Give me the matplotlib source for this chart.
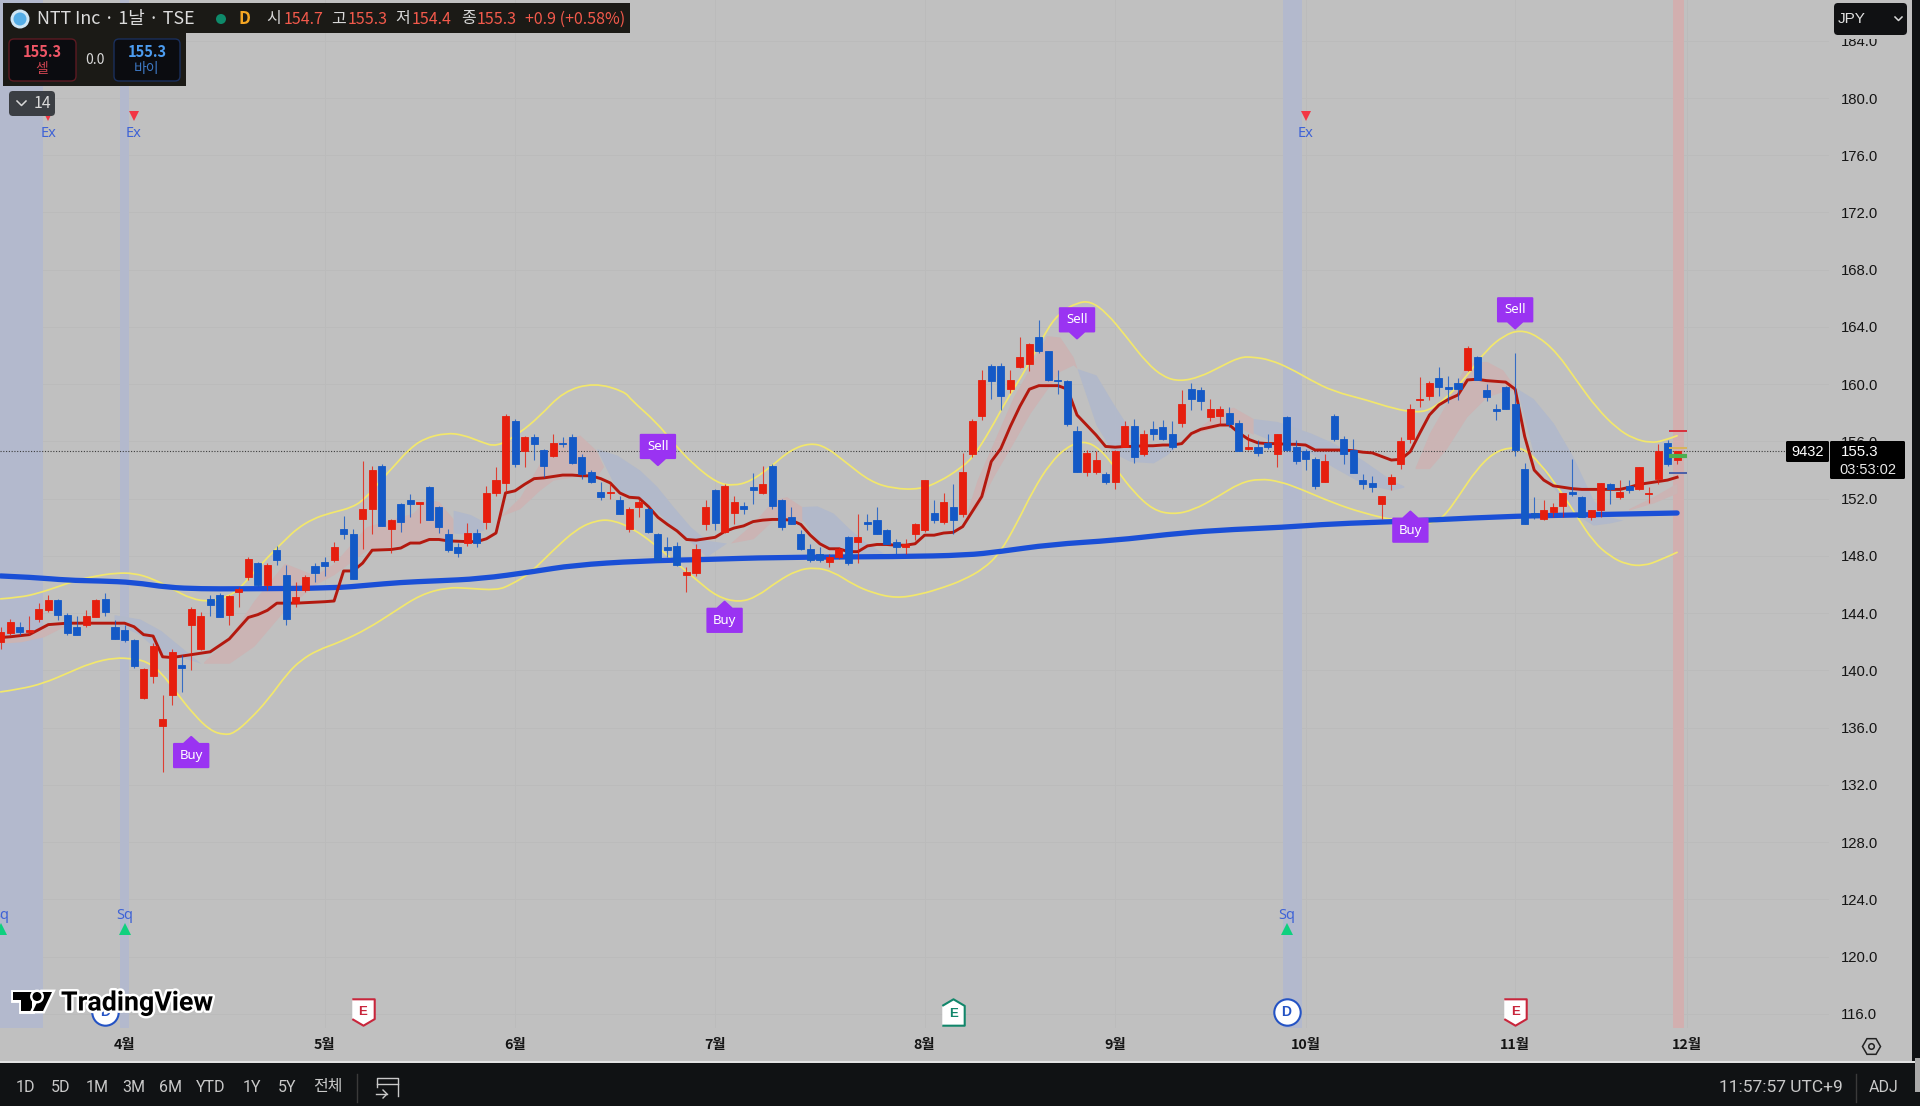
import matplotlib
matplotlib.use("Agg")
import matplotlib.pyplot as plt
import matplotlib.patheffects as pe
from matplotlib.lines import Line2D
from matplotlib.path import Path
from matplotlib.patches import Rectangle, FancyBboxPatch, Polygon, Circle, PathPatch
from matplotlib.transforms import Affine2D

plt.rcParams['font.family'] = ['Liberation Sans', 'Noto Sans CJK KR', 'DejaVu Sans']
KR = ['Noto Sans CJK KR', 'DejaVu Sans']

# daily candles
opens = [142.0,142.6,143.0,142.7,143.6,144.2,144.9,143.9,143.0,143.2,143.7,145.0,143.0,142.8,142.1,138.1,139.6,136.1,138.3,140.4,
 143.2,141.5,145.0,145.3,143.9,145.5,146.5,147.5,146.0,148.4,146.7,144.7,145.6,147.3,147.6,147.7,149.9,149.5,150.6,151.3,
 154.3,149.9,151.6,151.9,151.6,152.8,151.4,149.5,148.6,148.9,149.6,150.4,152.4,153.1,157.4,155.3,156.3,155.4,155.0,155.9,
 156.3,154.9,153.9,152.5,152.4,151.9,149.9,151.4,151.3,149.5,148.6,148.7,146.7,146.8,150.2,152.6,149.7,151.0,151.5,152.8,
 152.4,154.3,151.9,150.7,149.5,148.5,148.1,147.6,147.9,149.3,149.0,150.4,150.5,149.8,149.0,148.6,149.5,149.8,151.0,150.4,
 151.4,150.9,155.1,157.8,161.3,161.3,159.7,161.2,161.4,163.3,162.3,160.3,160.2,156.7,153.9,153.9,153.7,153.2,155.6,157.1,
 155.1,156.9,157.0,156.5,157.3,159.7,159.6,157.7,157.8,158.0,157.3,155.5,155.6,155.9,155.1,157.7,155.6,155.3,154.8,153.2,
 157.8,156.2,155.4,153.3,153.1,151.6,153.0,154.4,156.2,158.9,159.2,160.4,159.8,160.1,161.0,161.9,159.6,158.3,159.8,158.6,
 154.1,151.0,150.6,151.1,151.5,152.5,152.1,150.7,151.2,153.0,152.1,152.9,152.7,152.3,153.4,155.9,154.7]
highs = [143.0,143.6,143.4,143.8,144.7,145.3,145.0,144.0,143.8,144.2,145.0,145.4,143.5,143.2,142.2,140.2,141.9,138.3,141.5,141.1,
 144.4,144.1,145.3,145.4,145.3,145.8,147.9,147.6,147.5,148.7,147.4,146.2,146.7,147.5,147.9,149.0,150.8,149.9,154.6,154.3,
 154.4,150.6,151.7,152.3,151.8,152.9,151.5,149.9,148.9,150.3,149.9,152.9,154.2,157.9,157.6,156.4,156.5,155.5,156.5,156.3,
 156.5,155.1,154.0,153.2,153.1,152.2,151.4,152.0,151.4,149.6,149.3,149.0,147.2,148.8,151.9,152.7,153.0,152.2,151.8,153.8,
 154.3,154.4,152.0,151.4,149.8,148.8,148.6,148.1,148.6,149.4,150.9,150.9,151.4,149.9,149.2,149.2,150.3,153.3,151.9,152.4,
 153.0,155.2,157.6,161.0,161.4,161.5,161.0,163.3,162.9,164.5,162.3,161.0,160.3,157.1,155.4,155.3,153.9,155.4,157.4,157.6,
 156.8,157.4,157.5,157.4,159.6,160.1,159.8,159.0,158.5,158.4,157.5,156.5,156.1,156.5,156.5,157.8,156.1,155.5,154.9,155.1,
 157.9,156.4,156.2,153.7,153.6,152.2,153.7,156.3,158.6,160.5,160.2,161.2,160.6,160.4,162.7,162.0,160.0,158.6,159.9,162.2,
 154.5,152.1,151.9,151.7,152.4,154.8,152.2,151.2,153.1,153.1,153.3,153.3,154.2,152.8,155.8,156.1,155.3]
lows = [141.5,142.5,142.5,142.5,143.4,144.1,143.5,142.5,142.5,143.0,143.7,143.8,142.2,142.0,140.2,138.0,139.1,132.9,137.6,138.5,
 140.0,141.4,143.8,143.7,143.2,144.4,146.3,145.8,145.6,147.4,143.2,144.4,145.5,146.2,146.6,147.6,149.2,146.4,148.5,149.5,
 150.1,148.2,149.7,150.7,150.3,150.5,149.6,148.3,147.9,148.7,148.6,149.9,152.2,152.5,154.2,154.2,154.7,153.5,154.9,155.6,
 154.4,153.4,153.1,151.9,152.0,150.9,149.7,150.7,149.6,147.7,147.9,147.3,145.5,146.6,149.8,149.8,149.6,150.2,150.9,151.6,
 152.3,151.3,149.8,150.2,148.4,147.6,147.6,147.2,147.8,147.4,147.5,149.8,149.5,148.8,148.1,148.1,149.1,149.7,150.3,150.2,
 149.5,150.7,154.9,157.5,159.0,158.2,159.4,161.1,160.9,162.2,160.2,159.3,157.1,153.9,153.6,153.7,153.0,152.7,155.6,154.5,
 155.0,156.1,156.1,155.5,157.0,158.2,158.2,157.4,157.2,157.0,155.3,155.4,155.0,155.5,154.2,155.3,154.4,154.0,152.7,153.2,
 156.0,154.4,153.8,152.7,152.5,150.6,152.6,154.1,155.9,158.4,158.9,159.2,158.7,158.9,160.9,160.3,158.8,157.5,158.3,155.0,
 150.2,150.6,150.5,150.7,150.7,152.2,150.7,150.5,150.7,151.6,152.0,152.4,152.6,151.7,153.0,154.3,154.4]
closes = [142.7,143.4,142.7,142.8,144.3,144.9,143.9,142.6,142.5,143.8,144.9,144.1,142.2,142.1,140.3,140.1,141.7,136.6,141.3,140.2,
 144.3,143.8,144.6,143.7,145.2,145.7,147.8,146.0,147.4,147.7,143.6,145.1,146.5,146.8,147.3,148.6,149.5,146.4,151.3,154.0,
 150.1,150.5,150.4,151.6,151.8,150.5,150.0,148.4,148.2,149.6,148.9,152.4,153.3,157.8,154.4,156.3,155.8,154.3,155.9,155.8,
 154.5,153.7,153.2,152.1,152.5,150.9,151.3,151.8,149.7,147.7,148.4,147.4,146.9,148.5,151.4,150.3,152.9,151.8,151.3,152.6,
 153.0,151.5,150.0,150.2,148.5,147.7,147.7,147.9,148.5,147.5,149.3,150.2,149.5,148.8,148.6,148.8,150.2,153.3,150.5,151.8,
 150.5,153.9,157.4,160.3,160.2,159.2,160.3,161.9,162.8,162.3,160.3,160.2,157.2,153.9,155.2,154.7,153.2,155.3,157.1,154.9,
 156.5,156.5,156.2,155.6,158.6,159.0,158.8,158.3,158.3,157.2,155.3,155.6,155.2,155.6,156.5,155.4,154.6,154.8,152.9,154.6,
 156.2,155.1,153.8,153.0,152.8,152.2,153.5,156.0,158.3,159.0,160.1,159.8,159.7,159.7,162.5,160.3,159.1,158.1,158.3,155.4,
 150.2,150.7,151.2,151.4,152.4,152.3,150.7,151.2,153.1,152.7,152.5,152.6,154.2,152.4,155.3,154.4,155.3]

# red moving average
red_x = [0,1,3,5,7,9,11,13,14,15,16,17,18,19,20,21,22,24,26,27,28,29,31,34,35,36,37,38,39,41,42,43,44,45,46,47,49,50,51,52,53,54,55,56,57,58,59,60,61,62,63,64,65,66,67,68,69,70,71,72,73,74,75,76,77,78,79,80,81,82,83,84,85,86,87,88,89,90,91,92,93,94,95,96,97,98,99,100,101,102,103,104,105,106,107,108,109,110,111,112,113,114,115,116,117,118,119,120,121,122,123,124,125,126,127,128,129,130,131,132,133,134,135,136,137,138,139,140,141,142,143,144,145,146,147,148,149,150,151,152,153,154,155,156,157,158,159,160,161,162,163,164,165,166,167,168,169,170,171,172,173,174,175,176]
red_y = [142.3,142.35,142.5,143.2,143.3,143.3,143.3,143.3,143.05,142.5,142.4,140.95,140.9,141.0,141.1,141.2,141.3,142.2,143.7,143.9,144.2,144.7,144.7,144.8,144.85,146.95,146.95,147.5,148.4,148.45,148.55,148.9,148.9,149.15,149.15,149.05,149.0,149.0,149.2,149.6,152.4,152.55,153.0,153.4,153.45,153.55,153.65,153.65,153.6,153.6,153.4,153.1,152.4,152.1,152.05,151.45,150.7,150.2,149.75,149.15,149.1,149.2,149.3,149.7,149.95,150.1,150.4,150.5,150.55,150.55,150.5,150.2,149.45,148.85,148.5,148.5,148.3,148.3,148.7,148.8,148.8,148.75,148.75,148.85,149.45,149.45,149.6,149.65,150.05,151.1,152.15,154.6,155.5,157.05,158.45,159.65,159.9,159.9,159.9,159.65,157.85,157.15,156.45,155.65,155.6,155.65,155.65,155.7,155.7,155.75,155.75,155.85,156.55,156.85,157.0,157.15,157.15,156.6,156.15,155.9,155.85,155.85,155.8,155.8,155.75,155.4,155.4,155.4,155.4,155.35,155.25,155.2,154.95,154.7,154.75,155.3,156.6,157.85,158.55,158.95,159.25,160.3,160.35,160.25,160.2,160.15,159.65,156.35,154.0,153.3,152.9,152.8,152.7,152.65,152.65,152.65,152.65,152.65,152.8,153.0,153.1,153.2,153.3,153.5]

# yellow bands
upper_x = [0,2,4,6,8,10,12,14,16,18,20,22,24,25,26,28,30,31.1,32.8,34.6,37,38.4,39.8,41.6,42.8,44.4,46.8,48.6,50.3,52.1,54.5,56.5,59.1,62.3,65.5,66.2,68.9,70.6,72.7,75.2,76.9,78.7,80.8,82.9,85,86.7,88.8,91.3,93.7,96.5,98.6,100.7,102.1,103.9,105.6,107.7,109.8,111.2,113,114.4,116.1,118.2,120.3,122.1,123.8,125.9,128,130.1,131.5,133.3,135.4,137.5,139.9,143.4,146.2,148.7,150.4,152.5,154.3,156,157.8,159.5,161.3,163.4,165.5,167.6,169.7,171.4,173.2,174.6,176]
upper_y = [145.0,145.1,145.4,145.85,146.3,146.6,146.8,146.8,146.4,145.7,145.0,144.8,145.2,145.7,146.4,147.9,149.2,149.9,150.6,151.0,151.4,152.1,153.2,154.5,155.4,156.2,156.6,156.45,156.0,155.6,156.6,157.7,159.5,160.1,159.5,158.9,157.3,155.9,154.4,153.1,152.9,153.2,154.2,155.4,155.9,155.6,154.5,153.2,152.7,152.65,153.2,154.1,154.9,156.8,158.9,161.1,163.8,165.0,165.7,165.8,165.0,163.3,161.5,160.5,160.2,160.5,161.2,161.9,161.9,161.7,161.1,160.3,159.5,158.9,158.3,158.0,158.3,159.5,160.9,162.4,163.4,163.8,163.4,162.2,160.2,158.3,156.9,156.2,155.9,156.05,156.4]
lower_x = [0,2.1,4.5,7,9.4,12,14,15.4,16.8,18.5,20.3,22,23.4,24.5,26.2,28,30.1,31.5,33.2,35.7,38.5,41.3,44.1,46.9,48.9,52.1,53.6,55.6,58,60.5,62.6,64.3,66.4,68.5,70.6,73.1,75.2,77.5,79.4,81.5,83.6,85.5,87.4,89.5,91.6,94,96.5,99,101,103.2,104.9,106.7,108.4,110.2,111.9,113.7,115.4,117.2,118.9,121,123.1,125.2,127.7,130.1,132.2,134.3,136.4,139.9,143.05,146.2,150,151.5,153.2,154.9,156.7,158.5,159.9,161.6,163.7,165.5,167.2,169,170.7,172.5,174.2,176]
lower_y = [138.5,138.7,139.1,139.8,140.5,140.9,140.8,140.6,139.9,138.4,136.9,135.8,135.5,135.6,136.6,137.9,139.8,140.7,141.4,142.0,142.9,144.1,145.3,145.8,145.75,145.6,146.0,146.8,148.4,149.9,150.5,150.5,149.9,148.9,147.7,146.3,145.15,144.75,145.15,146.2,147.0,147.2,146.9,146.0,145.4,145.05,145.3,145.8,146.3,147.1,148.2,150.3,152.6,154.5,155.6,156.06,155.5,154.0,152.5,151.2,150.9,151.2,152.1,153.1,153.4,153.2,152.7,151.7,151.0,150.5,150.2,150.7,152.3,154.0,155.2,155.6,155.5,154.5,152.6,150.75,149.0,147.95,147.4,147.3,147.7,148.25]

# thick blue average
blue_x = [0,3.5,7,10.5,14,17.5,21,25.2,35,38.5,42,45.5,50.4,55.9,60.1,67.1,74.1,81.1,94.4,101.4,104.9,110.2,117.2,122.4,127.7,134.7,139.9,146.9,157.4,164.4,176]
blue_y = [146.6,146.5,146.3,146.25,146.15,145.8,145.7,145.7,145.75,145.95,146.15,146.25,146.4,146.9,147.35,147.65,147.75,147.9,147.95,148.05,148.3,148.8,149.1,149.5,149.8,150.0,150.25,150.4,150.75,150.85,151.0]

# shaded ribbons: bars, top edge, bottom edge
red_ribbons = [
 ([0,2.1,4.5,6.6], [142.3,142.4,143.0,143.2], [141.9,142.0,142.35,143.05]),
 ([21.3,24,26.6,29.8,33,35,38.4,43.3,44.7,46,47.5], [140.6,142.3,144.9,147.5,146.65,147.5,150.05,151.0,152.0,151.8,150.6], [140.5,140.5,141.7,144.2,146.0,146.7,148.4,148.9,149.1,149.2,149.5]),
 ([52.4,54.5,56.6,58,60.8,62.5,63.3], [150.75,152.1,154.5,155.9,156.45,155.4,154.25], [150.75,151.3,152.6,153.3,153.6,153.5,154.25]),
 ([76.6,79,81.1,82.5,84.1,84.5], [148.9,150.3,151.9,152.15,151.45,150.9], [148.9,149.2,150.5,150.55,150.4,150.7]),
 ([101.4,102.5,104.2,106.3,108.1,109.8,111.2,112.6,113], [151.0,153.3,155.9,159.1,161.2,163.4,163.3,161.9,161.1], [150.75,151.3,153.5,155.9,158.0,159.6,160.9,161.35,161.1]),
 ([125,127.7,129.4,131.5], [156.5,158.0,158.4,157.6], [156.5,157.0,157.15,156.5]),
 ([148.5,150,151.8,153.9,156,157.7,159.2], [154.2,156.6,158.7,161.5,161.6,161.0,159.6], [154.1,154.1,155.5,157.7,159.1,159.5,159.6]),
 ([170.9,173.5,176], [151.3,152.15,153.1], [151.2,151.7,152.4]),
]
blue_ribbons = [
 ([11.9,14.6,16.8,18.9,21], [143.9,143.6,142.8,141.65,140.5], [143.3,142.5,141.2,140.95,140.5]),
 ([47.5,49.3,50.7], [151.2,150.9,150.4], [149.6,149.5,149.8]),
 ([62.6,64.7,67.1,68.9,70.6,72.4,74.1,76.2], [155.5,155.05,154.0,152.85,151.45,150.05,149.1,148.9], [155.4,152.6,152.0,151.1,149.9,149.0,147.95,148.9]),
 ([84.1,85.7,87.4,89.1,90.9,92.7], [151.45,151.5,151.0,149.9,148.9,148.2], [150.6,149.1,148.4,148.2,148.1,148.2]),
 ([113,115,116.8,118.6,121,122.4,123.5], [161.1,160.65,158.65,156.8,155.6,155.6,155.7], [161.1,157.15,155.2,154.6,154.5,155.05,155.7]),
 ([131.5,134,137.5,139.9,143,146,147.3], [157.6,157.4,156.6,155.9,154.7,153.3,152.9], [156.6,155.9,155.2,154.2,153.05,152.6,152.8]),
 ([159.2,160.9,163,165.1,167.2,168.9,170.3], [159.7,159.0,157.3,154.9,151.9,150.75,150.5], [159.6,155.2,152.8,151.0,150.15,150.3,150.5]),
]

# signals, vertical bands, event marks
buy_bars = [20, 76, 148]
buy_prices = [135.35, 144.8, 151.1]
sell_bars = [69, 113, 159]
sell_prices = [154.35, 163.2, 163.9]
ex_bars = [5, 14, 137]
sq_bars = [0, 13, 135]
blue_bands = [(-0.5, 4.44), (12.5, 13.45), (134.65, 136.6)]
red_band = (175.6, 176.7)
earn_down_bars = [38, 159]
earn_up_bars = [100]
div_bars = [11, 135]
last_levels = [156.7, 155.56, 154.96, 153.77]
last_colors = ['#d8303c', '#d9b45a', '#4caf50', '#4a5fa8']

month_bars = [13, 34, 54, 75, 97, 117, 137, 159, 177]
month_labels = ['4월', '5월', '6월', '7월', '8월', '9월', '10월', '11월', '12월']
price_ticks = list(range(116, 188, 4))
last_price = 155.3

UP = '#e61e0e'
DOWN = '#1459c6'
BG = '#c0c0c0'


def curve(ax, xs, ys, color, lw, z):
    # round the corners between the read points
    verts = [(xs[0], ys[0])]
    codes = [Path.MOVETO]
    for k in range(1, len(xs) - 1):
        verts.append((xs[k], ys[k]))
        codes.append(Path.CURVE3)
        if k < len(xs) - 2:
            verts.append(((xs[k] + xs[k + 1]) / 2, (ys[k] + ys[k + 1]) / 2))
        else:
            verts.append((xs[-1], ys[-1]))
        codes.append(Path.CURVE3)
    ax.add_patch(PathPatch(Path(verts, codes), fc='none', ec=color, lw=lw, capstyle='round', zorder=z))


fig = plt.figure(figsize=(19.2, 11.06), dpi=100, facecolor=BG)
ax = fig.add_axes([0, 1 - 1028 / 1106, 1829 / 1920, 1028 / 1106], facecolor=BG)
ax.set_xlim(-0.0735, 191.95)
ax.set_ylim(115.01, 186.85)
for s in ax.spines.values():
    s.set_visible(False)

ax.set_yticks(price_ticks)
ax.set_yticklabels(['%.1f' % p for p in price_ticks], fontsize=10.7, color='#141414')
ax.yaxis.tick_right()
ax.set_xticks(month_bars)
ax.set_xticklabels(month_labels, fontsize=10.3, fontweight='bold', color='#141414', family=KR)
ax.tick_params(length=0)
ax.tick_params(axis='y', pad=8.6)
ax.tick_params(axis='x', pad=7)
ax.grid(True, color='#bbbbbb', lw=0.7)
ax.set_axisbelow(True)

for a, b in blue_bands:
    ax.axvspan(a, b, color='#b3b9cd', lw=0, zorder=1)
ax.axvspan(red_band[0], red_band[1], color='#d2afaf', lw=0, zorder=1)

for x, top, bot in red_ribbons:
    ax.fill_between(x, bot, top, color='#cbb4b4', lw=0, zorder=1.5)
for x, top, bot in blue_ribbons:
    ax.fill_between(x, bot, top, color='#b2b9ca', lw=0, zorder=1.5)

ax.axhline(last_price, color='#3c3c3c', lw=0.8, ls=(0, (1, 1.5)), zorder=2)
curve(ax, upper_x, upper_y, '#f2e76c', 1.25, 3)
curve(ax, lower_x, lower_y, '#f2e76c', 1.25, 3)
curve(ax, blue_x, blue_y, '#1a4fd6', 3.8, 3.2)
ax.plot(red_x, red_y, color='#b3190f', lw=2.1, solid_joinstyle='round', zorder=3.4)

# candles
for i in range(len(opens)):
    col = UP if closes[i] >= opens[i] else DOWN
    ax.vlines(i, lows[i], highs[i], color=col, lw=0.8, alpha=0.8, zorder=4)
    ax.bar(i, abs(closes[i] - opens[i]), bottom=min(opens[i], closes[i]), width=0.74,
           color=col, edgecolor=col, lw=0.6, zorder=4.2)

for lvl, c in zip(last_levels, last_colors):
    ax.hlines(lvl, 175.2, 177.0, color=c, lw=3 if c == '#4caf50' else 1.4, zorder=4.4)

# Buy / Sell badges
PURPLE = '#9a33f2'
hw, sh, gap, tall = 1.8, 0.8, 0.49, 1.62
for b, p in zip(buy_bars, buy_prices):
    ax.add_patch(Polygon([(b, p), (b + sh, p - gap), (b + hw, p - gap), (b + hw, p - gap - tall),
                          (b - hw, p - gap - tall), (b - hw, p - gap), (b - sh, p - gap)],
                         closed=True, fc=PURPLE, ec=PURPLE, lw=1.5, joinstyle='round', zorder=6))
    ax.text(b, p - gap - tall / 2, 'Buy', color='white', fontsize=9.5, fontweight='bold',
            family=['Noto Sans', 'DejaVu Sans'], ha='center', va='center', zorder=7)
for b, p in zip(sell_bars, sell_prices):
    ax.add_patch(Polygon([(b, p), (b + sh, p + gap), (b + hw, p + gap), (b + hw, p + gap + tall),
                          (b - hw, p + gap + tall), (b - hw, p + gap), (b - sh, p + gap)],
                         closed=True, fc=PURPLE, ec=PURPLE, lw=1.5, joinstyle='round', zorder=6))
    ax.text(b, p + gap + tall / 2, 'Sell', color='white', fontsize=9.5, fontweight='bold',
            family=['Noto Sans', 'DejaVu Sans'], ha='center', va='center', zorder=7)

# Ex / Sq marks
TXT_BLUE = '#3f63d6'
ax.plot(ex_bars, [178.75] * len(ex_bars), 'v', color='#f23645', ms=7.5, mew=0, zorder=6)
for b in ex_bars:
    ax.text(b, 177.55, 'Ex', color=TXT_BLUE, fontsize=10.5, family=['Noto Sans', 'DejaVu Sans'],
            ha='center', va='center', zorder=6)
ax.plot(sq_bars, [121.9] * len(sq_bars), '^', color='#0fd07f', ms=8.5, mew=0, zorder=6)
for b in sq_bars:
    ax.text(b, 122.9, 'Sq', color=TXT_BLUE, fontsize=10.5, family=['Noto Sans', 'DejaVu Sans'],
            ha='center', va='center', zorder=6, clip_on=True)

# earnings and dividend marks along the bottom
shield = [(-0.85, 1), (0.85, 1), (0.85, -0.5), (0, -1), (-0.85, -0.5)]
house = [(-0.85, -1), (0.85, -1), (0.85, 0.5), (0, 1), (-0.85, 0.5)]
for b in earn_down_bars:
    ax.plot([b], [116.1], marker=shield, ms=19, mfc='white', mec='#c8263c', mew=1.5, zorder=6)
    ax.text(b, 116.15, 'E', color='#c8263c', fontsize=9.5, fontweight='bold', ha='center', va='center', zorder=7)
for b in earn_up_bars:
    ax.plot([b], [116.1], marker=house, ms=19, mfc='white', mec='#11866a', mew=1.5, zorder=6)
    ax.text(b, 116.0, 'E', color='#11866a', fontsize=9.5, fontweight='bold', ha='center', va='center', zorder=7)
for b in div_bars:
    ax.plot([b], [116.1], 'o', ms=19, mfc='white', mec='#2453c4', mew=1.5, zorder=6)
    ax.text(b, 116.1, 'D', color='#2453c4', fontsize=10, fontweight='bold', ha='center', va='center', zorder=7)

# screen chrome, in pixels from the top left
px = Affine2D().scale(1, -1).translate(0, 1106)


def box(x0, y0, x1, y1, color, ec='none', r=0, z=5, lw=1):
    if r:
        p = FancyBboxPatch((x0, y0), x1 - x0, y1 - y0, boxstyle='round,pad=0,rounding_size=%g' % r,
                           fc=color, ec=ec, lw=lw, transform=px, zorder=z)
    else:
        p = Rectangle((x0, y0), x1 - x0, y1 - y0, fc=color, ec=ec, lw=lw, transform=px, zorder=z)
    fig.add_artist(p)


def label(x, y, s, color='#d8d8d8', size=11, ha='center', z=8, **kw):
    fig.text(x, y, s, color=color, fontsize=size, ha=ha, va='center', transform=px, zorder=z, **kw)


# right strip and bottom bar
box(1912, 0, 1920, 1106, '#0f1113')
box(0, 1061, 1920, 1063, '#e2e2e2', z=5)
box(0, 1063, 1920, 1106, '#101214', z=5.1)
box(1915, 1058, 1920, 1092, '#a9a9a9', z=5.2)

# header
HEAD = '#1b1a16'
box(3, 3, 630, 33, HEAD)
box(3, 33, 186, 86, HEAD)
fig.add_artist(Circle((20, 19), 9.5, fc='#cfe6f5', ec='none', transform=px, zorder=6))
fig.add_artist(Circle((20, 19), 6.5, fc='#55ade6', ec='none', transform=px, zorder=6.1))
label(37, 19, 'NTT Inc · 1날 · TSE', color='#dcdcdc', size=12.9, ha='left', family=KR)
fig.add_artist(Circle((221, 19), 5, fc='#0e8a6a', ec='none', transform=px, zorder=6))
label(244, 19, 'D', color='#f5a623', size=12, fontweight='bold', family=KR)
PRICE_RED = '#f2594b'
for x_k, k, x_v, v in [(274, '시', 284, '154.7'), (339, '고', 348, '155.3'),
                       (403, '저', 412, '154.4'), (469, '종', 477, '155.3')]:
    label(x_k, 19, k, color='#d8d8d8', size=11.5, family=KR)
    label(x_v, 19, v, color=PRICE_RED, size=11.5, ha='left', family=KR)
label(525, 19, '+0.9 (+0.58%)', color=PRICE_RED, size=11.5, ha='left', family=KR)

box(9, 39, 76, 81, '#0b0c10', ec='#5c1a22', r=5, z=6)
box(114, 39, 180, 81, '#0b0c10', ec='#1a2f5c', r=5, z=6)
label(42, 52, '155.3', color='#ef5666', size=10.5, fontweight='bold', family=KR)
label(42, 69, '셀', color='#c8434f', size=10, family=KR)
label(95, 60, '0.0', color='#d8d8d8', size=10, family=KR)
label(147, 52, '155.3', color='#4c9cf0', size=10.5, fontweight='bold', family=KR)
label(147, 69, '바이', color='#3d78c4', size=10, family=KR)

box(9, 91, 55, 116, '#3b3e43', r=4, z=6)
fig.add_artist(Line2D([17, 21.5, 26], [101, 105.5, 101], color='#d8d8d8', lw=1.1, transform=px, zorder=7))
label(42, 104, '14', color='#d8d8d8', size=11.5, family=KR)

# JPY box, the 184.0 label runs under it
box(1834, 34, 1907, 39, BG, z=5.5)
box(1834, 3, 1907, 35, '#101113', r=4, z=6)
label(1838, 19, 'JPY', color='#e0e0e0', size=11, ha='left')
fig.add_artist(Line2D([1895, 1898.5, 1902], [17, 20.5, 17], color='#d8d8d8', lw=1.1, transform=px, zorder=7))

# last price tags
box(1786, 441, 1829, 462, 'black', r=1.5, z=6)
label(1807.5, 452, '9432', color='white', size=10.5)
box(1830, 441, 1905, 479, 'black', r=1.5, z=6)
label(1841, 452, '155.3', color='white', size=10.8, ha='left')
label(1839, 470, '03:53:02', color='#e8e8e8', size=10.5, ha='left')

# settings icon
fig.add_artist(Line2D([1871], [1046], marker='H', ms=13, mfc='none', mec='#222222', mew=1.1, transform=px, zorder=7))
fig.add_artist(Line2D([1871], [1046], marker='o', ms=4, mfc='none', mec='#222222', mew=1.1, transform=px, zorder=7))

# bottom bar texts
for x, s in zip([25.7, 60.4, 97, 134, 171, 211, 252, 287, 328],
                ['1D', '5D', '1M', '3M', '6M', 'YTD', '1Y', '5Y', '전체']):
    label(x, 1087, s, color='#c9c9c9', size=11.5, family=['Roboto', 'Noto Sans CJK KR'])
fig.add_artist(Line2D([357, 357], [1074, 1102], color='#3a3a3a', lw=1, transform=px, zorder=7))
fig.add_artist(Line2D([1856, 1856], [1074, 1102], color='#3a3a3a', lw=1, transform=px, zorder=7))
label(1843, 1087, '11:57:57 UTC+9', color='#c9c9c9', size=12.5, ha='right', family=['Roboto', 'Noto Sans CJK KR'])
label(1884, 1087, 'ADJ', color='#c9c9c9', size=11.5, family=['Roboto', 'Noto Sans CJK KR'])
# calendar icon
fig.add_artist(Line2D([398, 398, 377, 377], [1096, 1078, 1078, 1087], color='#c9c9c9', lw=1, transform=px, zorder=7))
fig.add_artist(Line2D([377, 398], [1084, 1084], color='#c9c9c9', lw=1, transform=px, zorder=7))
fig.add_artist(Line2D([376, 387], [1094, 1094], color='#c9c9c9', lw=1, transform=px, zorder=7))
fig.add_artist(Line2D([383, 387, 383], [1090, 1094, 1098], color='#c9c9c9', lw=1, transform=px, zorder=7))

# TradingView logo
stroke = [pe.withStroke(linewidth=3.5, foreground='white')]
for pts in [[(13, 992), (32, 992), (32, 1011), (21, 1011), (21, 1000), (13, 1000)],
            [(42, 992), (52, 992), (43, 1011), (33, 1011)]]:
    g = Polygon(pts, closed=True, fc='black', ec='none', transform=px, zorder=8)
    g.set_path_effects(stroke)
    fig.add_artist(g)
dot = Circle((37, 996.5), 4.5, fc='black', ec='none', transform=px, zorder=8)
dot.set_path_effects(stroke)
fig.add_artist(dot)
fig.text(61, 1003, 'TradingView', color='black', fontsize=19.3, fontweight='bold', family=['Roboto', 'DejaVu Sans'],
         va='center', ha='left', transform=px, zorder=9, path_effects=stroke)

fig.savefig('out.png', dpi=100, facecolor=BG)
